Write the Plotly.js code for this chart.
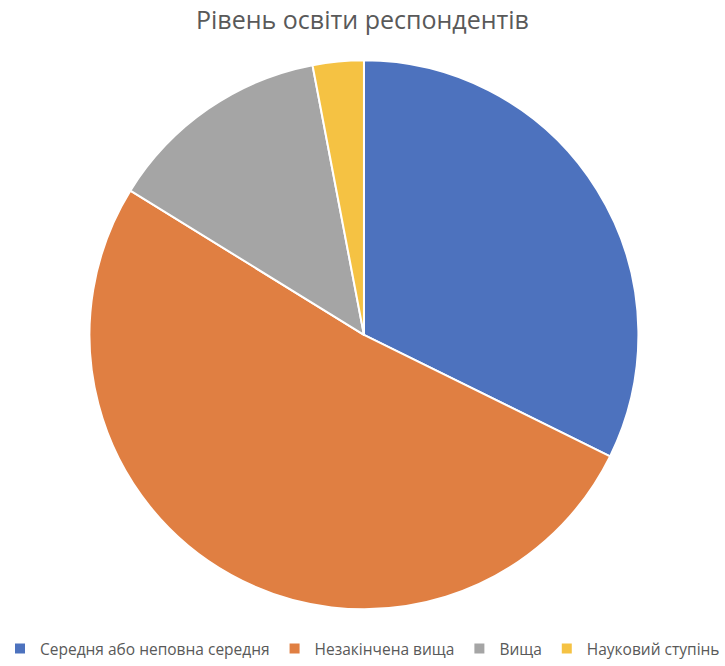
<!DOCTYPE html>
<html>
<head>
<meta charset="utf-8">
<script src="https://cdn.plot.ly/plotly-3.0.1.min.js"></script>
<style>html,body{margin:0;padding:0;background:#fff;}#chart{width:725px;height:666px;}</style>
</head>
<body>
<div id="chart"></div>
<script>
const categories = ["Середня або неповна середня", "Незакінчена вища", "Вища", "Науковий ступінь"];
const values = [32.3, 51.5, 13.2, 3.0];
const colors = ["#4D72BE", "#E07F42", "#A5A5A5", "#F5C243"];
const chartTitle = "Рівень освіти респондентів";

const data = [{
  type: "pie",
  labels: categories,
  values: values,
  sort: false,
  direction: "clockwise",
  rotation: 0,
  textinfo: "none",
  hoverinfo: "label+percent",
  marker: {colors: colors, line: {color: "#ffffff", width: 2}},
  domain: {x: [0.004, 1], y: [0.081, 0.909]}
}];

const layout = {
  width: 725, height: 666,
  margin: {l: 0, r: 0, t: 0, b: 0},
  paper_bgcolor: "#ffffff",
  title: {text: chartTitle, x: 0.5, xanchor: "center", y: 0.97, yanchor: "middle",
          font: {family: "Open Sans, sans-serif", size: 25, color: "#595959"}},
  showlegend: true,
  legend: {orientation: "h", x: 0.5, xanchor: "center", y: 0.021, yanchor: "middle",
           font: {family: "Open Sans, sans-serif", size: 15.5, color: "#595959"},
           itemwidth: 30, traceorder: "normal"}
};

Plotly.newPlot("chart", data, layout, {displayModeBar: false});
</script>
</body>
</html>
